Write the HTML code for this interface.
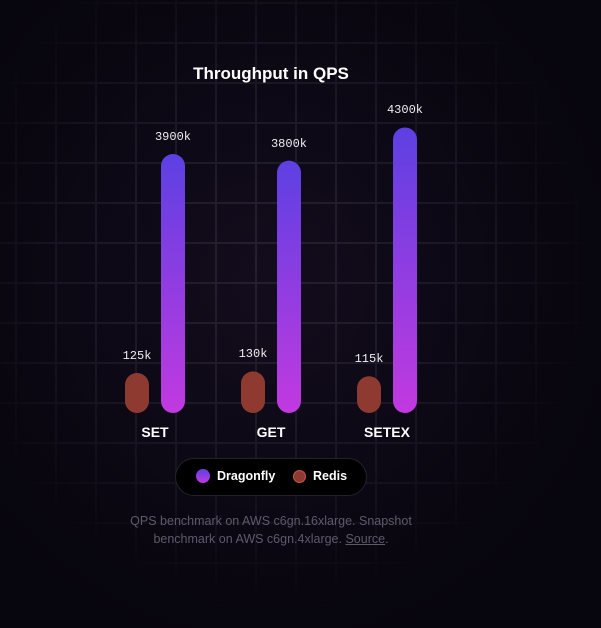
<!DOCTYPE html>
<html><head><meta charset="utf-8"><style>
body{margin:0;width:601px;height:628px;overflow:hidden;background:#07050d;font-family:"Liberation Sans",sans-serif}
#wrap{position:relative;width:601px;height:628px}
.t{position:absolute;white-space:nowrap}
</style></head><body>
<div id="wrap">
<svg width="601" height="628" style="position:absolute;left:0;top:0" id="svg">
<defs>
<radialGradient id="bgg" cx="0.45" cy="0.45" r="0.6"><stop offset="0" stop-color="#130c1d"/><stop offset="1" stop-color="#07050d"/></radialGradient>
<radialGradient id="gm" cx="0.45" cy="0.42" r="0.55"><stop offset="0" stop-color="#fff" stop-opacity="1"/><stop offset="0.6" stop-color="#fff" stop-opacity="0.55"/><stop offset="1" stop-color="#fff" stop-opacity="0"/></radialGradient>
<mask id="mask"><rect width="601" height="628" fill="url(#gm)"/></mask>
<linearGradient id="dfg" x1="0" y1="0" x2="0" y2="1"><stop offset="0" stop-color="#5d40e2"/><stop offset="1" stop-color="#c13ae0"/></linearGradient>
</defs>
<rect width="601" height="628" fill="url(#bgg)"/>
<g id="grid" mask="url(#mask)" stroke="#262030" stroke-width="2"></g>
<g id="bars"></g>
</svg>
<div class="t" style="left:0;width:542px;text-align:center;top:64px;color:#fff;font-weight:bold;font-size:17px">Throughput in QPS</div>
<div id="labels"></div>
<div style="position:absolute;left:175px;top:458px;width:190px;height:36px;border-radius:19px;background:#000;border:1px solid #24212b"></div>
<div class="t" style="left:196px;top:469px;color:#fff;font-weight:bold;font-size:12.5px"><span style="display:inline-block;width:14px;height:14px;border-radius:50%;background:linear-gradient(#5d40e2,#c13ae0);vertical-align:-3px;margin-right:7px"></span>Dragonfly</div>
<div class="t" style="left:293px;top:469px;color:#fff;font-weight:bold;font-size:12.5px"><span style="display:inline-block;width:13px;height:13px;border-radius:50%;background:#8e3a30;border:1px solid #c55a48;box-sizing:border-box;vertical-align:-3px;margin-right:7px"></span>Redis</div>
<div class="t" style="left:0;width:542px;text-align:center;top:513px;color:#5e5a6a;font-size:12.5px;line-height:17.5px">QPS benchmark on AWS c6gn.16xlarge. Snapshot<br>benchmark on AWS c6gn.4xlarge. <span style="text-decoration:underline">Source</span>.</div>
</div>
<script>
const categories=["SET","GET","SETEX"];
const dragonflyValues=[3900,3800,4300];
const redisValues=[125,130,115];
const dragonflyLabels=["3900k","3800k","4300k"];
const redisLabels=["125k","130k","115k"];
const NS="http://www.w3.org/2000/svg";
const grid=document.getElementById('grid');
for(let x=16;x<601;x+=40){const l=document.createElementNS(NS,'line');l.setAttribute('x1',x);l.setAttribute('x2',x);l.setAttribute('y1',0);l.setAttribute('y2',628);grid.appendChild(l);}
for(let y=3;y<628;y+=40){const l=document.createElementNS(NS,'line');l.setAttribute('y1',y);l.setAttribute('y2',y);l.setAttribute('x1',0);l.setAttribute('x2',601);grid.appendChild(l);}
const base=413, bw=24;
const yDF=v=>base-v*0.0664;
const yR=v=>base-v*0.32;
const xGroup=i=>155+i*116;
const bars=document.getElementById('bars'), labels=document.getElementById('labels');
function bar(x,top,fill,name){const r=document.createElementNS(NS,'rect');r.setAttribute('x',x);r.setAttribute('y',top);r.setAttribute('width',bw);r.setAttribute('height',base-top);r.setAttribute('rx',12);r.setAttribute('fill',fill);


bars.appendChild(r);}
function label(cx,y,text,name,style){const d=document.createElement('div');d.className='t';d.style.cssText=`left:${cx-50}px;width:100px;text-align:center;top:${y}px;`+style;d.textContent=text;


labels.appendChild(d);}
const mono='color:#eee;font-family:"Liberation Mono",monospace;font-size:12px;';
categories.forEach((c,i)=>{
 const g=xGroup(i);
 const rx=g-30, dx=g+6;
 const rt=yR(redisValues[i]), dt=yDF(dragonflyValues[i]);
 bar(rx,rt,'#8e3a30','bar-redis-'+c.toLowerCase());
 bar(dx,dt,'url(#dfg)','bar-dragonfly-'+c.toLowerCase());
 label(rx+12,rt-24,redisLabels[i],'value-redis-'+c.toLowerCase(),mono);
 label(dx+12,dt-24,dragonflyLabels[i],'value-dragonfly-'+c.toLowerCase(),mono);
 label(g,424,c,'category-'+c.toLowerCase(),'color:#fff;font-weight:bold;font-size:14px;');
});
</script>
</body></html>
